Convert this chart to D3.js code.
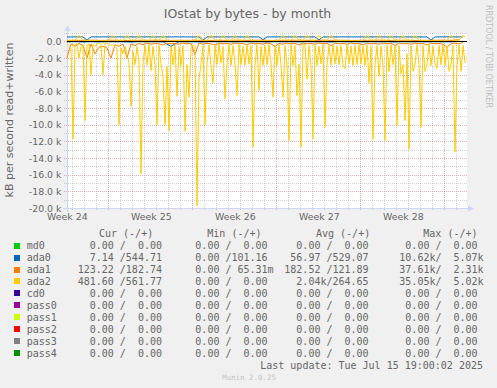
<!DOCTYPE html>
<html>
<head>
<meta charset="utf-8">
<script src="https://cdn.jsdelivr.net/npm/d3@7"></script>
<style>
  body { margin: 0; background: #f0f0f0; }
  svg { display: block; }
  text { fill: #666; }
  .mono { font-family: "DejaVu Sans Mono", monospace; font-size: 10px; white-space: pre; }
  .sans { font-family: "DejaVu Sans", sans-serif; }
</style>
</head>
<body>
<div id="viz"></div>
<script>

// ---- data (kB/s) ----
// ada2 read, one value every 4 hours
var ada2Read = [
  300, 500, 900, 11700, 400, 300, 2000, 600, 400, 9500,
  500, 300, 4000, 400, 600, 300, 200, 400, 4000, 300,
  200, 300, 500, 400, 600, 900, 10000, 800, 1500, 600,
  1800, 2500, 7800, 1200, 2800, 600, 2600, 15900, 2700, 500,
  2800, 400, 3500, 600, 2900, 10000, 500, 2700, 4300, 10000,
  3000, 10700, 600, 2800, 400, 6600, 700, 2900, 500, 10800,
  2800, 6700, 900, 400, 600, 19700, 4500, 2800, 500, 10000,
  2700, 400, 2900, 5000, 500, 2800, 300, 2600, 600, 6900,
  2800, 400, 2900, 500, 2700, 6500, 400, 2800, 600, 2900,
  400, 2700, 500, 12700, 2800, 400, 5900, 600, 2900, 500,
  2800, 400, 2700, 6700, 500, 2900, 400, 2800, 6700, 500,
  2800, 11900, 400, 2900, 500, 6500, 2700, 12700, 300, 400,
  4500, 500, 2800, 11700, 400, 2900, 600, 2700, 400, 10300,
  2800, 500, 2900, 400, 2700, 600, 2800, 500, 2900, 3300,
  400, 2700, 600, 2900, 500, 2800, 400, 2700, 600, 2900,
  400, 5000, 600, 11700, 2800, 500, 4200, 600, 2900, 11900,
  500, 3600, 400, 2800, 600, 10100, 500, 3900, 2800, 9500,
  1500, 12900, 500, 3600, 2800, 400, 2900, 10300, 500, 3600,
  2800, 400, 2900, 600, 2700, 3200, 500, 2800, 400, 2900,
  600, 3600, 2800, 500, 13300, 2900, 400, 3600, 500, 2600
]

// ada2 written, every 4 hours
var ada2Write = [
  60, 60, 60, 60, 60, 520, 680, 520, 60, 60,
  60, 60, 60, 60, 60, 60, 60, 60, 60, 60,
  60, 60, 520, 680, 520, 60, 60, 60, 60, 520,
  680, 520, 60, 60, 60, 520, 680, 520, 60, 60,
  60, 60, 520, 680, 520, 60, 60, 520, 680, 520,
  60, 60, 60, 60, 60, 60, 60, 60, 60, 60,
  60, 60, 60, 60, 60, 520, 680, 520, 60, 60,
  60, 520, 680, 520, 60, 60, 60, 520, 680, 520,
  60, 60, 60, 520, 680, 520, 60, 60, 60, 520,
  680, 520, 60, 60, 60, 60, 60, 60, 60, 60,
  60, 60, 60, 60, 60, 60, 60, 520, 680, 520,
  60, 60, 60, 520, 680, 520, 60, 60, 60, 520,
  680, 520, 60, 60, 60, 520, 680, 520, 60, 60,
  60, 520, 680, 520, 60, 60, 60, 60, 60, 60,
  60, 60, 60, 60, 60, 60, 60, 60, 60, 520,
  680, 520, 60, 60, 60, 520, 680, 520, 60, 60,
  60, 520, 680, 520, 60, 60, 60, 520, 680, 520,
  60, 60, 60, 520, 680, 520, 60, 60, 60, 60,
  60, 60, 60, 60, 60, 60, 60, 60, 60, 60,
  60, 520, 680, 520, 60, 60, 60, 520, 680, 520
]

// ada1 read, every 8 hours
var ada1Read = [
  2000, 300, 600, 250, 500, 2000, 300, 1500, 700, 600,
  800, 2000, 400, 600, 300, 2000, 300, 500, 250, 400,
  200, 350, 250, 300, 450, 200, 300, 250, 350, 200,
  300, 250, 1600, 200, 350, 250, 300, 450, 200, 300,
  250, 350, 200, 300, 250, 400, 200, 300, 250, 350,
  200, 300, 600, 250, 350, 200, 300, 250, 450, 200,
  300, 250, 350, 200, 300, 250, 500, 200, 300, 250,
  350, 200, 300, 250, 450, 200, 300, 250, 350, 200,
  300, 250, 500, 200, 300, 250, 350, 200, 300, 250,
  450, 200, 300, 250, 350, 700, 300, 200, 300, 123
]

// ada0 written, every 8 hours
var ada0Write = [
  530, 525, 535, 530, 528, 150, 530, 532, 527, 530,
  531, 529, 533, 530, 526, 530, 534, 529, 531, 530,
  528, 532, 530, 527, 533, 529, 531, 530, 528, 532,
  530, 527, 533, 529, 150, 531, 530, 528, 532, 530,
  527, 533, 529, 531, 530, 528, 532, 530, 527, 200,
  531, 529, 533, 530, 526, 530, 534, 529, 531, 530,
  528, 532, 530, 180, 533, 529, 531, 530, 528, 532,
  530, 527, 533, 529, 531, 530, 528, 532, 530, 527,
  533, 529, 531, 530, 528, 532, 530, 527, 533, 529,
  531, 160, 530, 528, 532, 530, 527, 533, 529, 531
]

// ada1 written and ada0 read, every 16 hours
var ada1Write = [110, 130, 120, 140, 115, 125, 135, 120, 110, 130, 125, 140, 120, 115, 130, 120, 135, 125, 110, 130,
  120, 140, 115, 125, 135, 120, 110, 130, 125, 140, 120, 115, 130, 120, 135, 125, 110, 130, 120, 140,
  115, 125, 135, 120, 110, 130, 125, 140, 120, 183]
var ada0Read = [60, 40, 80, 50, 70, 45, 60, 55, 90, 40, 60, 50, 70, 600, 45, 60, 55, 80, 40, 60,
  50, 70, 45, 60, 55, 80, 40, 60, 50, 70, 45, 60, 55, 80, 40, 60, 50, 70, 45, 60,
  55, 80, 40, 60, 50, 70, 45, 60, 55, 7]

var yTicks = [0, -2000, -4000, -6000, -8000, -10000, -12000, -14000, -16000, -18000, -20000]
var weekLabels = ["Week 24", "Week 25", "Week 26", "Week 27", "Week 28"]
var weekLabelTimes = [Date.UTC(2025, 5, 12, 12), Date.UTC(2025, 5, 19, 12), Date.UTC(2025, 5, 26, 12),
  Date.UTC(2025, 6, 3, 12), Date.UTC(2025, 6, 10, 12)]

// legend
var devices = ["md0", "ada0", "ada1", "ada2", "cd0", "pass0", "pass1", "pass2", "pass3", "pass4"]
var devColors = ["#00CC00", "#0066B3", "#FF8000", "#FFCC00", "#330099", "#990099", "#CCFF00", "#FF0000", "#808080", "#008F00"]
var curRead = [0, 7.14, 123.22, 481.60, 0, 0, 0, 0, 0, 0]
var curWrite = [0, 544.71, 182.74, 561.77, 0, 0, 0, 0, 0, 0]
var minRead = [0, 0, 0, 0, 0, 0, 0, 0, 0, 0]
var minWrite = [0, 101.16, 0.06531, 0, 0, 0, 0, 0, 0, 0]
var avgRead = [0, 56.97, 182.52, 2040, 0, 0, 0, 0, 0, 0]
var avgWrite = [0, 529.07, 121.89, 264.65, 0, 0, 0, 0, 0, 0]
var maxRead = [0, 10620, 37610, 35050, 0, 0, 0, 0, 0, 0]
var maxWrite = [0, 5070, 2310, 5020, 0, 0, 0, 0, 0, 0]

// ---- layout ----
const W = 497, H = 388;
const t0 = new Date(Date.UTC(2025, 5, 12, 13, 24));
const t1 = d3.utcHour.offset(t0, 800);

const x = d3.scaleUtc().domain([t0, t1]).range([67, 467]);
const y = d3.scaleLinear().domain([-20000, 1000]).range([208, 33]);

const svg = d3.select("#viz").append("svg")
    .attr("width", W)
    .attr("height", H);

svg.append("rect").attr("width", W).attr("height", H).attr("fill", "#f0f0f0");
svg.append("rect")
    .attr("x", 67).attr("y", 33)
    .attr("width", 400).attr("height", 175)
    .attr("fill", "white");

const px = v => Math.round(v) + 0.5

// minor grid
const grid = svg.append("g").attr("shape-rendering", "crispEdges");
const minorY = d3.range(1000, -20001, -1000).filter(v => v % 2000 != 0);
grid.selectAll(".hmin").data(minorY).join("line")
    .attr("x1", 64).attr("x2", 467)
    .attr("y1", d => px(y(d))).attr("y2", d => px(y(d)))
    .attr("stroke", "rgba(143,143,143,0.4)").attr("stroke-dasharray", "1,1");

const days = d3.utcDay.range(t0, t1).filter(d => d.getUTCDay() != 1);
grid.selectAll(".vmin").data(days).join("line")
    .attr("x1", d => px(x(d))).attr("x2", d => px(x(d)))
    .attr("y1", 33).attr("y2", 211)
    .attr("stroke", "rgba(143,143,143,0.4)").attr("stroke-dasharray", "1,1");

// major grid
grid.selectAll(".hmaj").data(yTicks).join("line")
    .attr("x1", 64).attr("x2", 467)
    .attr("y1", d => px(y(d))).attr("y2", d => px(y(d)))
    .attr("stroke", "rgba(222,79,79,0.45)").attr("stroke-dasharray", "1,1");

const mondays = d3.utcMonday.range(t0, t1);
grid.selectAll(".vmaj").data(mondays).join("line")
    .attr("x1", d => px(x(d))).attr("x2", d => px(x(d)))
    .attr("y1", 33).attr("y2", 211)
    .attr("stroke", "rgba(222,79,79,0.45)").attr("stroke-dasharray", "1,1");

// axes
const axisCol = "#CFD6F8";
svg.append("line").attr("x1", 63).attr("x2", 469).attr("y1", 208.5).attr("y2", 208.5)
    .attr("stroke", axisCol);
svg.append("line").attr("x1", 67.5).attr("x2", 67.5).attr("y1", 212).attr("y2", 30)
    .attr("stroke", axisCol);
svg.append("path").attr("d", "M64.5,31 L67.5,25 L70.5,31 Z").attr("fill", axisCol);
svg.append("path").attr("d", "M468,205.5 L474,208.5 L468,211.5 Z").attr("fill", axisCol);

// series
const plot = svg.append("g");

function drawLine(values, stepHours, sign, color) {
    var line = d3.line()
        .x((d, i) => x(d3.utcHour.offset(t0, stepHours * i)))
        .y(d => y(sign * d));
    plot.append("path")
        .datum(values)
        .attr("d", line)
        .attr("fill", "none")
        .attr("stroke", color)
        .attr("stroke-width", 1);
}

drawLine(ada0Read, 16, -1, devColors[1]);
drawLine(ada0Write, 8, 1, devColors[1]);
drawLine(ada1Read, 8, -1, devColors[2]);
drawLine(ada1Write, 16, 1, devColors[2]);
drawLine(ada2Read, 4, -1, devColors[3]);
drawLine(ada2Write, 4, 1, devColors[3]);

// zero line
svg.append("line")
    .attr("x1", 67).attr("x2", 467)
    .attr("y1", px(y(0))).attr("y2", px(y(0)))
    .attr("stroke", "black").attr("stroke-width", 1.2);

// y tick labels
svg.append("g").selectAll("text").data(yTicks).join("text")
    .attr("class", "sans")
    .attr("x", 61.5)
    .attr("y", d => y(d) + 3.5)
    .attr("text-anchor", "end")
    .style("font-size", "9.4px")
    .text(d => d == 0 ? "0.0" : (d / 1000).toFixed(1) + " k");

// x labels
svg.append("g").selectAll("text").data(weekLabels).join("text")
    .attr("class", "sans")
    .attr("x", (d, i) => x(weekLabelTimes[i]) + 1)
    .attr("y", 220)
    .attr("text-anchor", "middle")
    .style("font-size", "9.4px")
    .text(d => d);

// titles
svg.append("text").attr("class", "sans")
    .attr("x", 247.5).attr("y", 18.3)
    .attr("text-anchor", "middle")
    .style("font-size", "12.5px")
    .text("IOstat by bytes - by month");

svg.append("text").attr("class", "sans")
    .attr("transform", "translate(13.3,120) rotate(-90)")
    .attr("text-anchor", "middle")
    .style("font-size", "11px")
    .text("kB per second read+written");

svg.append("text").attr("class", "sans")
    .attr("transform", "translate(485.5,56.5) rotate(90)")
    .attr("text-anchor", "middle")
    .style("font-size", "8px")
    .style("fill", "#bdbdbd")
    .text("RRDTOOL / TOBI OETIKER");

// legend
function fmt(v) {
    var s, u = " ";
    if (v >= 1000) { s = (v / 1000).toFixed(2); u = "k"; }
    else if (v > 0 && v < 1) { s = (v * 1000).toFixed(2); u = "m"; }
    else s = v.toFixed(2);
    return s.padStart(6) + u;
}

var colX = [77.7, 183.3, 284.3, 393.3];
var headX = [99, 207.3, 316, 423.3];
var heads = ["Cur (-/+)", "Min (-/+)", "Avg (-/+)", "Max (-/+)"];

const legend = svg.append("g");
heads.forEach(function (h, i) {
    legend.append("text").attr("class", "mono")
        .attr("x", headX[i]).attr("y", 237)
        .text(h);
});

devices.forEach(function (name, k) {
    var cy = 245.6 + 11.96 * k;
    legend.append("rect")
        .attr("x", 14).attr("y", Math.round(cy - 3))
        .attr("width", 6).attr("height", 6)
        .attr("fill", devColors[k]);
    legend.append("text").attr("class", "mono")
        .attr("x", 26.7).attr("y", cy + 3.6)
        .text(name);
    var cols = [
        fmt(curRead[k]) + "/" + fmt(curWrite[k]),
        fmt(minRead[k]) + "/" + fmt(minWrite[k]),
        fmt(avgRead[k]) + "/" + fmt(avgWrite[k]),
        fmt(maxRead[k]) + "/" + fmt(maxWrite[k])
    ];
    cols.forEach(function (c, i) {
        legend.append("text").attr("class", "mono")
            .attr("x", colX[i]).attr("y", cy + 3.6)
            .text(c);
    });
});

legend.append("text").attr("class", "mono")
    .attr("x", 483).attr("y", 369.3)
    .attr("text-anchor", "end")
    .text("Last update: Tue Jul 15 19:00:02 2025");

svg.append("text").attr("class", "mono")
    .attr("x", 249).attr("y", 380)
    .attr("text-anchor", "middle")
    .style("font-size", "7.5px")
    .style("fill", "#c4c4c4")
    .text("Munin 2.0.25");

</script>
</body>
</html>
